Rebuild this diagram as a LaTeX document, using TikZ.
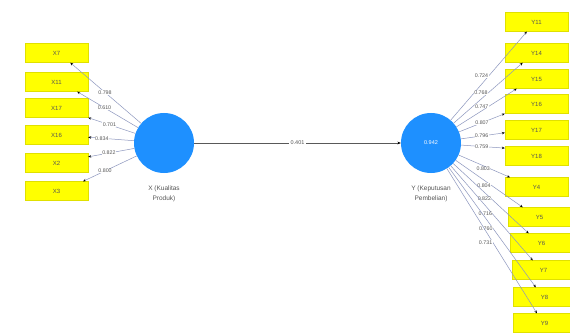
\documentclass[tikz,border=0pt]{standalone}
\usepackage{fontspec}
\setmainfont{Liberation Sans}
\usetikzlibrary{arrows.meta}
\definecolor{lvblue}{RGB}{30,144,255}
\definecolor{indyellow}{RGB}{255,255,0}
\definecolor{lnk}{RGB}{140,150,190}
\definecolor{txtgray}{RGB}{85,85,85}

\begin{document}
\begin{tikzpicture}[x=1pt, y=-1pt,
  indbox/.style={rectangle, fill=indyellow, draw=indyellow!88!black, line width=0.3pt,
    minimum width=63pt, minimum height=19pt, inner sep=0pt,
    font=\fontsize{6}{6}\selectfont, text=txtgray},
  latent/.style={circle, fill=lvblue, minimum size=60pt, inner sep=0pt,
    font=\fontsize{5.5}{6}\selectfont, text=white},
  loading/.style={draw=lnk, line width=0.5pt, -{Stealth[length=3pt, width=2.4pt, color=black]}},
  lbl/.style={font=\fontsize{5.3}{5}\selectfont, text=txtgray, fill=white, inner sep=0.4pt},
  caption/.style={align=center, font=\fontsize{6.5}{10}\selectfont, text=txtgray}]
  \fill[white] (0,0) rectangle (570,334);
  \useasboundingbox (0,0) rectangle (570,334);

  % latent variables
  \node[latent] (X) at (164,143) {};
  \node[latent] (Y) at (431,143) {0.942};
  \node[caption] (Xcap) at (164,194) {X (Kualitas\\Produk)};
  \node[caption] (Ycap) at (431,194) {Y (Keputusan\\Pembelian)};

  % indicators of X
  \foreach \nm/\txt/\yy in {x7/X7/53, x11/X11/82, x17/X17/108, x16/X16/135, x2/X2/163, x3/X3/191}
    \node[indbox] (\nm) at (56.5,\yy) {\txt};

  % indicators of Y
  \foreach \nm/\txt/\xx/\yy in {y11/Y11/536.5/22, y14/Y14/536.5/53, y15/Y15/536.5/79,
      y16/Y16/536.5/104, y17/Y17/536.5/130, y18/Y18/536.5/156, y4/Y4/536.5/187,
      y5/Y5/539.5/217, y6/Y6/541.5/243, y7/Y7/543.5/270, y8/Y8/544.5/297, y9/Y9/544.5/323}
    \node[indbox] (\nm) at (\xx,\yy) {\txt};

  % outer loadings
  \foreach \nm/\anc/\val/\p in {x7/-35/0.798/0.51, x11/-25/0.610/0.55, x17/south east/0.701/0.55,
      x16/-4/0.834/0.7, x2/11/0.822/0.55, x3/20/0.800/0.59}
    \draw[loading] (X) -- (\nm.\anc) node[lbl, pos=\p] {\val};

  \foreach \nm/\anc/\val/\p/\an in {y11/-135/0.724/0.5/east, y14/-145/0.768/0.5/east,
      y15/-154/0.747/0.54/east, y16/south west/0.807/0.5/center, y17/-175/0.796/0.47/center,
      y18/166/0.759/0.47/center, y4/160/0.803/0.62/east, y5/150/0.804/0.53/east,
      y6/143/0.822/0.51/east, y7/138/0.716/0.51/east, y8/132/0.760/0.51/east, y9/128/0.731/0.51/east}
    \draw[loading] (Y) -- (\nm.\anc) node[lbl, pos=\p, anchor=\an] {\val};

  % structural path
  \draw[draw=black!65, line width=0.5pt, -{Stealth[length=3.5pt, width=2.8pt, color=black]}]
    (X) -- (Y) node[lbl, midway, font=\fontsize{5.5}{6}\selectfont, inner sep=1.5pt] {0.401};
\end{tikzpicture}
\end{document}
